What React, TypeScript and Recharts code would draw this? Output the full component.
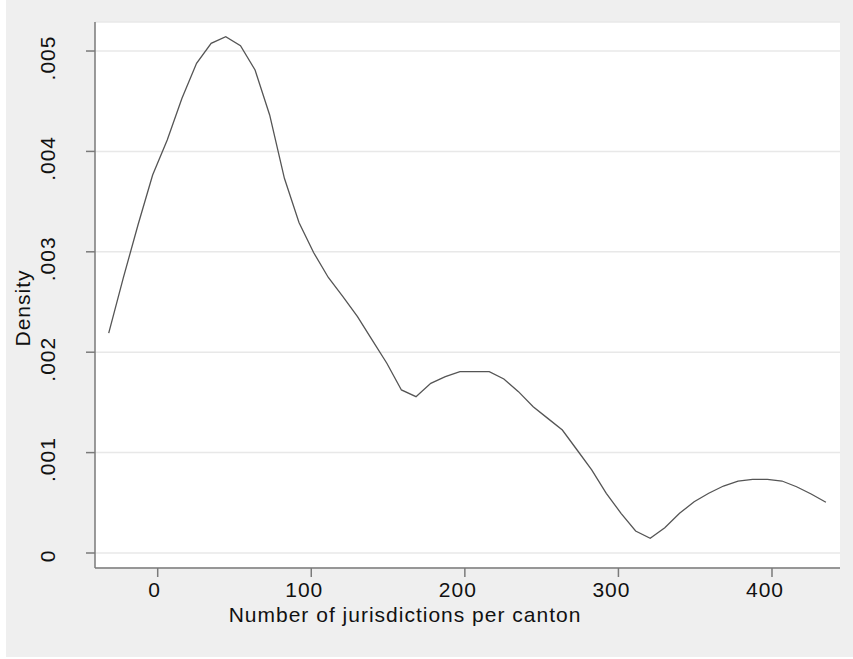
import React from "react";
import { LineChart, Line, XAxis, YAxis, CartesianGrid } from "recharts";

const jurisdictions = [
  -31.9, -22.4, -12.8, -3.3, 6.2, 15.8, 25.3, 34.8, 44.3, 53.9,
  63.4, 72.9, 82.5, 92.0, 101.5, 111.1, 120.6, 130.1, 139.6, 149.2,
  158.7, 168.2, 177.8, 187.3, 196.8, 206.4, 215.9, 225.4, 234.9, 244.5,
  254.0, 263.5, 273.1, 282.6, 292.1, 301.7, 311.2, 320.7, 330.2, 339.8,
  349.3, 358.8, 368.4, 377.9, 387.4, 397.0, 406.5, 416.0, 425.5, 435.1,
];

const density = [
  0.00219, 0.00274, 0.00327, 0.003765, 0.004113, 0.004529, 0.004877, 0.005077, 0.005143, 0.005053,
  0.004811, 0.004363, 0.003732, 0.003292, 0.002993, 0.002744, 0.002553, 0.002354, 0.002122, 0.00189,
  0.001624, 0.001557, 0.00169, 0.001756, 0.001806, 0.001806, 0.001806, 0.001733, 0.001607, 0.001457,
  0.001341, 0.001225, 0.001026, 0.000827, 0.000595, 0.000395, 0.000219, 0.000146, 0.000252, 0.000395,
  0.000511, 0.000595, 0.000667, 0.000717, 0.000734, 0.000734, 0.000717, 0.00066, 0.000588, 0.000505,
];

const xTicks = [0, 100, 200, 300, 400];
const yTicks = [0, 0.001, 0.002, 0.003, 0.004, 0.005];
const yTickLabels = ["0", ".001", ".002", ".003", ".004", ".005"];

const xTitle = "Number of jurisdictions per canton";
const yTitle = "Density";

const data = jurisdictions.map((x, i) => ({ x, d: density[i] }));

const FONT = "'Liberation Sans', Arial, Helvetica, sans-serif";
const AXIS = "#7a7a7a";

const XTick = (props: any) => {
  const { x, payload } = props;
  const label = String(payload.value);
  const shift = label.length === 1 ? -3 : -7;
  return (
    <text
      x={x + shift}
      y={597}
      textAnchor="middle"
      fontFamily={FONT}
      fontSize={21}
      letterSpacing={1}
      fill="#111"
    >
      {label}
    </text>
  );
};

const YTick = (props: any) => {
  const { y, payload } = props;
  const idx = yTicks.indexOf(payload.value);
  const label = idx >= 0 ? yTickLabels[idx] : String(payload.value);
  const shift = label.length === 1 ? 3 : 7;
  const cy = y + shift;
  return (
    <text
      x={55}
      y={cy}
      transform={`rotate(-90, 55, ${cy})`}
      textAnchor="middle"
      fontFamily={FONT}
      fontSize={21}
      letterSpacing={1}
      fill="#111"
    >
      {label}
    </text>
  );
};

const XTitle = () => (
  <text
    x={405}
    y={622}
    textAnchor="middle"
    fontFamily={FONT}
    fontSize={21}
    letterSpacing={1}
    fill="#111"
  >
    {xTitle}
  </text>
);

const YTitle = () => (
  <text
    x={30}
    y={308}
    transform="rotate(-90, 30, 308)"
    textAnchor="middle"
    fontFamily={FONT}
    fontSize={21}
    letterSpacing={1}
    fill="#111"
  >
    {yTitle}
  </text>
);

export default function App() {
  return (
    <div style={{ position: "absolute", left: 0, top: 0, width: 853, height: 659, background: "#fff" }}>
      <div style={{ position: "absolute", left: 6, top: 0, width: 847, height: 657, background: "#efefef" }} />
      <div style={{ position: "absolute", left: 0, top: 0 }}>
        <LineChart
          width={853}
          height={659}
          data={data}
          margin={{ top: 22, right: 13, left: 0, bottom: 0 }}
        >
          <CartesianGrid fill="#ffffff" vertical={false} stroke="#e8e8e8" strokeWidth={1.5} />
          <XAxis
            type="number"
            dataKey="x"
            domain={[-40.83, 444.28]}
            ticks={xTicks}
            allowDataOverflow
            height={91}
            tickSize={9}
            axisLine={{ stroke: AXIS, strokeWidth: 1.5 }}
            tickLine={{ stroke: AXIS, strokeWidth: 1.5 }}
            tick={<XTick />}
            label={<XTitle />}
          />
          <YAxis
            type="number"
            dataKey="d"
            domain={[-0.0001494, 0.005289]}
            ticks={yTicks}
            allowDataOverflow
            width={95}
            tickSize={9}
            axisLine={{ stroke: AXIS, strokeWidth: 1.5 }}
            tickLine={{ stroke: AXIS, strokeWidth: 1.5 }}
            tick={<YTick />}
            label={<YTitle />}
          />
          <Line
            type="linear"
            dataKey="d"
            stroke="#555555"
            strokeWidth={1.3}
            dot={false}
            activeDot={false}
            isAnimationActive={false}
          />
        </LineChart>
      </div>
    </div>
  );
}
